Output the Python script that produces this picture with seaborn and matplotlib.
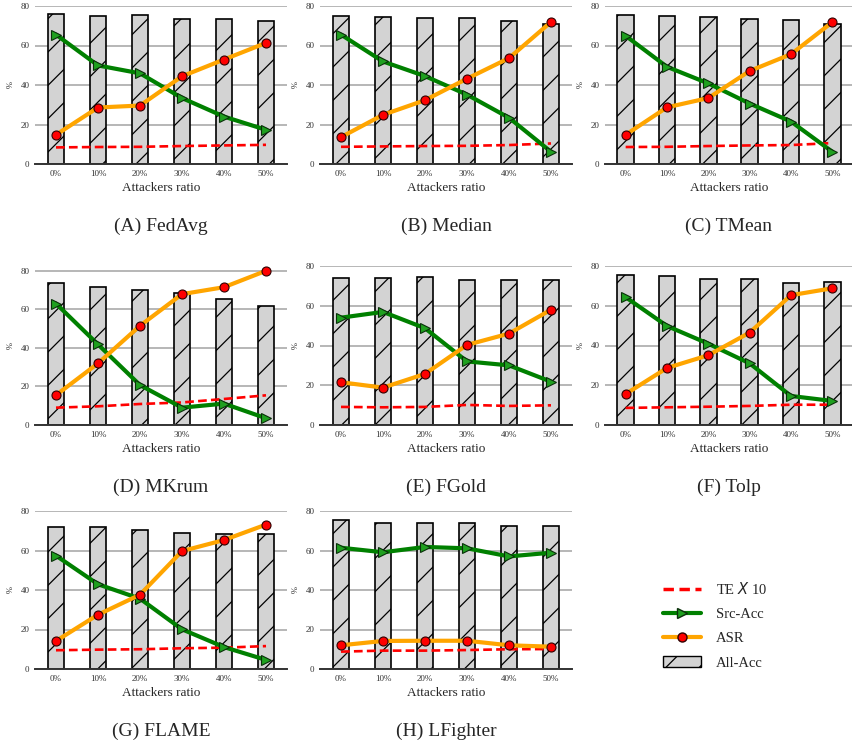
import matplotlib
matplotlib.use("Agg")
import matplotlib.pyplot as plt
import seaborn as sns
import numpy as np
import pandas as pd
from matplotlib.lines import Line2D
from matplotlib.patches import Patch

# --------------------------
# Data
# --------------------------
ratios = ["0%", "10%", "20%", "30%", "40%", "50%"]
panels = ["(A) FedAvg", "(B) Median", "(C) TMean", "(D) MKrum",
          "(E) FGold", "(F) Tolp", "(G) FLAME", "(H) LFighter"]

all_acc = [
    [75.8, 75.0, 75.3, 73.6, 73.3, 72.6],
    [74.8, 74.5, 74.1, 73.9, 72.6, 70.8],
    [75.3, 75.0, 74.6, 73.3, 72.8, 70.9],
    [73.8, 71.7, 70.0, 68.3, 65.6, 61.8],
    [74.2, 74.2, 74.5, 73.0, 73.0, 73.0],
    [75.5, 74.8, 73.7, 73.3, 71.3, 71.8],
    [71.9, 71.7, 70.4, 68.9, 68.5, 68.2],
    [75.6, 73.9, 73.9, 73.9, 72.6, 72.6],
]
src_acc = [
    [65.5, 49.9, 45.9, 33.4, 24.0, 17.3],
    [65.5, 51.9, 44.5, 35.1, 23.4, 6.2],
    [64.9, 49.2, 40.8, 30.6, 21.5, 6.2],
    [63.0, 41.8, 20.7, 9.0, 11.1, 3.5],
    [54.0, 56.9, 48.7, 32.0, 30.0, 21.8],
    [64.3, 49.8, 40.9, 31.0, 14.6, 12.1],
    [57.4, 42.9, 35.6, 20.1, 11.1, 4.6],
    [61.4, 59.1, 61.8, 61.1, 57.0, 58.9],
]
asr = [
    [14.8, 28.6, 29.6, 44.4, 52.9, 61.3],
    [13.6, 24.9, 32.3, 43.2, 53.6, 71.9],
    [14.8, 28.7, 33.4, 47.1, 55.6, 71.8],
    [15.5, 32.0, 51.5, 67.9, 71.5, 80.0],
    [21.5, 18.8, 25.7, 40.3, 46.0, 58.0],
    [15.6, 28.7, 35.1, 46.5, 65.3, 68.8],
    [14.2, 27.5, 37.6, 59.7, 65.3, 73.1],
    [12.0, 14.2, 14.3, 14.3, 12.0, 11.3],
]
te_x10 = [
    [8.4, 8.6, 8.7, 9.1, 9.4, 9.7],
    [8.7, 8.9, 9.1, 9.2, 9.6, 10.4],
    [8.6, 8.7, 9.1, 9.4, 9.6, 10.6],
    [9.0, 9.7, 10.9, 11.7, 13.5, 15.4],
    [9.1, 8.9, 9.1, 10.1, 9.6, 9.9],
    [8.6, 8.9, 9.2, 9.6, 10.2, 10.2],
    [9.5, 9.8, 10.0, 10.5, 10.8, 11.6],
    [8.8, 9.3, 9.3, 9.6, 10.0, 10.1],
]

# --------------------------
# Style
# --------------------------
sns.set_style("white")
plt.rcParams["font.family"] = ["Liberation Serif", "DejaVu Serif"]
plt.rcParams["hatch.linewidth"] = 0.9

W, H = 853, 746
fig = plt.figure(figsize=(W / 100, H / 100), dpi=100)

# axes boxes in pixels: left, right / top, bottom
col_x = [(35, 287), (320, 572), (605, 853)]
row_y = [(6, 164), (266, 425), (511, 669)]

x_pos = np.arange(len(ratios))
te_dash = (0, (3.3, 1.6))

for i, name in enumerate(panels):
    r, c = divmod(i, 3)
    x0, x1 = col_x[c]
    yt, yb = row_y[r]
    ax = fig.add_axes([x0 / W, 1 - yb / H, (x1 - x0) / W, (yb - yt) / H])

    df = pd.DataFrame({"ratio": ratios, "acc": all_acc[i]})
    sns.barplot(data=df, x="ratio", y="acc", ax=ax, color="#d3d3d3",
                edgecolor="black", linewidth=1.2, width=0.4, hatch="/",
                saturation=1, zorder=2)

    sns.lineplot(x=x_pos, y=te_x10[i], ax=ax, color="red", linewidth=1.9,
                 linestyle=te_dash, zorder=3)
    sns.lineplot(x=x_pos, y=src_acc[i], ax=ax, color="green", linewidth=3,
                 marker=">", markersize=7, markerfacecolor="#1fa01f",
                 markeredgecolor="#0a300a", markeredgewidth=0.8, zorder=4)
    sns.lineplot(x=x_pos, y=asr[i], ax=ax, color="orange", linewidth=3,
                 marker="o", markersize=6.5, markerfacecolor="red",
                 markeredgecolor="#300000", markeredgewidth=0.8, zorder=5)

    ax.set_xlim(-0.5, 5.5)
    ax.set_ylim(0, 82.5 if name == "(D) MKrum" else 80)
    ax.set_yticks([0, 20, 40, 60, 80])
    ax.grid(axis="y", color="#aaaaaa", linewidth=1.2, zorder=0)
    ax.set_axisbelow(True)
    for s in ["left", "right", "top"]:
        ax.spines[s].set_visible(False)
    ax.spines["bottom"].set_color("#333333")
    ax.spines["bottom"].set_linewidth(1.4)
    ax.tick_params(axis="both", length=0, labelsize=6.5, colors="#333333",
                   pad=4)
    ax.set_xlabel("Attackers ratio", fontsize=9.5, labelpad=3)
    ax.set_ylabel("%", fontsize=6, labelpad=4)

    fig.text((x0 + x1) / 2 / W, 1 - (yb + 62) / H, name, ha="center",
             va="center", fontsize=14)

# --------------------------
# Legend (bottom-right cell)
# --------------------------
handles = [
    Line2D([], [], color="red", linewidth=2.5, linestyle=(0, (3, 1.6))),
    Line2D([], [], color="green", linewidth=3, marker=">", markersize=7,
           markerfacecolor="#1fa01f", markeredgecolor="#0a300a"),
    Line2D([], [], color="orange", linewidth=3, marker="o", markersize=6.5,
           markerfacecolor="red", markeredgecolor="#300000"),
    Patch(facecolor="#d3d3d3", edgecolor="black", hatch="/"),
]
labels = ["TE $X$ 10", "Src-Acc", "ASR", "All-Acc"]
fig.legend(handles, labels, loc="upper left",
           bbox_to_anchor=(650 / W, 1 - 568 / H), frameon=False,
           fontsize=10.5, handlelength=2.6, labelspacing=0.75,
           handletextpad=1.0)

fig.savefig("out.png", dpi=100)
